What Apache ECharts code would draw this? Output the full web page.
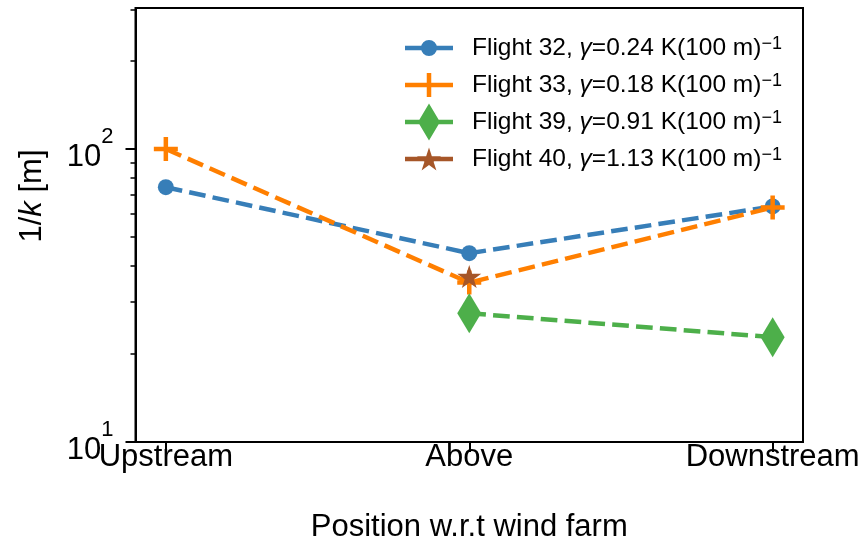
<!DOCTYPE html>
<html>
<head>
<meta charset="utf-8">
<script src="https://cdn.jsdelivr.net/npm/echarts@6/dist/echarts.min.js"></script>
<style>
  html, body { margin: 0; padding: 0; background: #fff; }
  #chart { width: 864px; height: 544px; }
</style>
</head>
<body>
<div id="chart"></div>
<script>
// Positions along the flight track
const categories = ['Upstream', 'Above', 'Downstream'];

// Flights and their lapse rates (K per 100 m)
const flights = ['Flight 32', 'Flight 33', 'Flight 39', 'Flight 40'];
const gammas = ['0.24', '0.18', '0.91', '1.13'];

// 1/k [m] at each position (null = no measurement)
const flight32 = [74.1, 44.1, 63.7];
const flight33 = [100, 35.0, 63.2];
const flight39 = [null, 27.5, 22.8];
const flight40 = [null, 36.7, null];

// Log-axis ticks
const yMajorTicks = [10, 100];
const yMinorTicks = [20, 30, 40, 50, 60, 70, 80, 90, 200, 300];

const colors = ['#377eb8', '#ff7f00', '#4daf4a', '#a65628'];

const plusPath = 'path://M9.75,0 H14.25 V9.75 H24 V14.25 H14.25 V24 H9.75 V14.25 H0 V9.75 H9.75 Z';
const starPath = 'path://M100,0 L122.45,69.1 L195.11,69.1 L136.33,111.8 L158.78,180.9 L100,138.2 L41.22,180.9 L63.67,111.8 L4.89,69.1 L77.55,69.1 Z';

// Legend handles: a short solid line with the marker in the middle
const boxMark = 'M0,0 M62,37 ';
const lineBar = 'M0,16.25 H48 V20.75 H0 Z ';
const legendIcons = [
  'path://' + boxMark + lineBar + 'M16,18.5 A8,8 0 1 1 32,18.5 A8,8 0 1 1 16,18.5 Z',
  'path://' + boxMark + lineBar + 'M21.75,6.5 H26.25 V30.5 H21.75 Z',
  'path://' + boxMark + lineBar + 'M24,0 L35,18.5 L24,37 L13,18.5 Z',
  'path://' + boxMark + lineBar + 'M24,7.1 L26.83,15.81 L35.98,15.81 L28.58,21.19 L31.41,29.89 L24,24.51 L16.59,29.89 L19.42,21.19 L12.02,15.81 L21.17,15.81 Z'
];

const symbols = ['circle', plusPath, 'diamond', starPath];
const symbolSizes = [16, 24, [24, 40], [24, 23]];
const values = [flight32, flight33, flight39, flight40];

function seriesName(i) {
  return flights[i] + ', γ=' + gammas[i] + ' K(100 m)−1';
}

function toPoints(arr) {
  const pts = [];
  arr.forEach(function (v, i) { if (v !== null) pts.push([i, v]); });
  return pts;
}

const series = values.map(function (arr, i) {
  return {
    name: seriesName(i),
    type: 'line',
    data: toPoints(arr),
    symbol: symbols[i],
    symbolSize: symbolSizes[i],
    showAllSymbol: true,
    clip: false,
    lineStyle: { color: colors[i], width: 4.5, type: [16.7, 7.2] },
    itemStyle: { color: colors[i], opacity: 1 },
    emphasis: { disabled: true },
    z: 3 + i
  };
});

const font = 'Liberation Sans, Arial, sans-serif';

const chart = echarts.init(document.getElementById('chart'));
chart.setOption({
  animation: false,
  backgroundColor: '#fff',
  grid: {
    left: 135.5, right: 61, top: 8, bottom: 102,
    outerBoundsMode: 'none',
    containLabel: false,
    show: true, borderColor: '#000', borderWidth: 2, backgroundColor: 'transparent'
  },
  legend: {
    orient: 'vertical',
    left: 400,
    top: 24.5,
    itemWidth: 62,
    itemHeight: 37,
    itemGap: 0,
    selectedMode: false,
    data: flights.map(function (f, i) {
      return { name: seriesName(i), icon: legendIcons[i], itemStyle: { color: colors[i] } };
    }),
    formatter: function (name) {
      const i = flights.findIndex(function (f, k) { return seriesName(k) === name; });
      return flights[i] + ', {it|γ}=' + gammas[i] + ' K(100 m){sup|−1}';
    },
    textStyle: {
      fontFamily: font, fontSize: 24.5, color: '#000',
      rich: {
        it: { fontFamily: font, fontSize: 24.5, fontStyle: 'italic', color: '#000' },
        sup: { fontFamily: font, fontSize: 18, color: '#000', verticalAlign: 'top', lineHeight: 12 }
      }
    }
  },
  xAxis: {
    type: 'value',
    min: -0.1,
    max: 2.1,
    splitLine: { show: false },
    axisLine: { show: true, onZero: false, lineStyle: { color: '#000', width: 2 } },
    axisTick: { show: true, length: 10, lineStyle: { color: '#000', width: 2 }, customValues: [0, 1, 2] },
    axisLabel: {
      customValues: [0, 1, 2],
      formatter: function (v) { return categories[Math.round(v)]; },
      fontFamily: font, fontSize: 31, color: '#000', margin: 0
    },
    name: 'Position w.r.t wind farm',
    nameLocation: 'middle',
    nameGap: 70,
    nameTextStyle: { fontFamily: font, fontSize: 31, color: '#000' }
  },
  yAxis: [
    {
      type: 'log',
      logBase: 10,
      min: 10,
      max: 303,
      splitLine: { show: false },
      axisLine: { show: true, onZero: false, lineStyle: { color: '#000', width: 2 } },
      axisTick: { show: true, length: 10, lineStyle: { color: '#000', width: 2 }, customValues: yMajorTicks },
      axisLabel: {
        customValues: yMajorTicks,
        formatter: function (v) { return '{b|10}{sup|' + Math.round(Math.log10(v)) + '}'; },
        fontFamily: font, fontSize: 31, color: '#000', margin: 22,
        rich: {
          b: { fontFamily: font, fontSize: 31, color: '#000', padding: [16, 0, 0, 0] },
          sup: { fontFamily: font, fontSize: 22, color: '#000', verticalAlign: 'top', lineHeight: 16 }
        }
      },
      name: '1/{it|k} [m]',
      nameLocation: 'middle',
      nameRotate: 90,
      nameGap: 88,
      nameTextStyle: {
        fontFamily: font, fontSize: 31, color: '#000',
        padding: [0, 0, 0, 58],
        rich: { it: { fontFamily: font, fontSize: 31, fontStyle: 'italic', color: '#000' } }
      }
    },
    {
      type: 'log',
      logBase: 10,
      min: 10,
      max: 303,
      position: 'left',
      splitLine: { show: false },
      axisLine: { show: false, onZero: false },
      axisTick: { show: true, length: 5, lineStyle: { color: '#000', width: 1.5 }, customValues: yMinorTicks },
      axisLabel: { show: false }
    }
  ],
  series: series
});
</script>
</body>
</html>
